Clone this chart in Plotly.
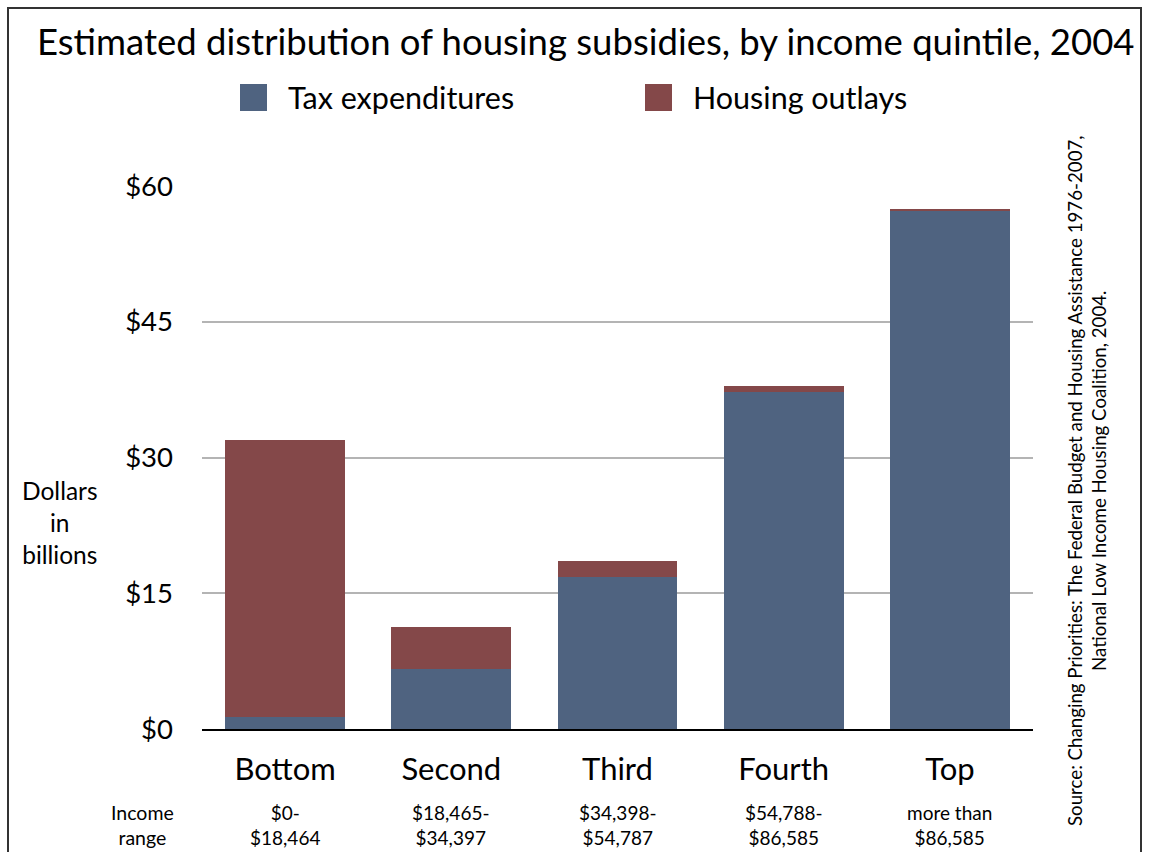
import plotly.graph_objects as go

# Income quintiles and their income ranges
quintiles = ["Bottom", "Second", "Third", "Fourth", "Top"]
income_ranges = ["$0-<br>$18,464", "$18,465-<br>$34,397", "$34,398-<br>$54,787",
                 "$54,788-<br>$86,585", "more than<br>$86,585"]

# Housing subsidies, billions of dollars
tax_expenditures = [1.3, 6.6, 16.8, 37.2, 57.2]
housing_outlays = [30.6, 4.7, 1.8, 0.7, 0.3]

y_ticks = [0, 15, 30, 45, 60]
y_tick_labels = ["$0", "$15", "$30", "$45", "$60"]

BLUE = "#4f6380"
RED = "#844849"
FONT = "Lato"

W, H = 1150, 852
L, R, T, B = 202, 117, 186, 123
PW, PH = W - L - R, H - T - B


def px(x):
    return (x - L) / PW


def py(y):
    return (H - B - y) / PH


fig = go.Figure()
fig.add_trace(go.Bar(x=quintiles, y=tax_expenditures, name="Tax expenditures",
                     marker=dict(color=BLUE, line=dict(width=0))))
fig.add_trace(go.Bar(x=quintiles, y=housing_outlays, name="Housing outlays",
                     marker=dict(color=RED, line=dict(width=0))))

fig.update_layout(
    width=W, height=H,
    margin=dict(l=L, r=R, t=T, b=B, pad=0),
    barmode="stack", bargap=0.28,
    showlegend=False,
    plot_bgcolor="white", paper_bgcolor="white",
    font=dict(family=FONT, color="black"),
    xaxis=dict(showgrid=False, showline=True, linecolor="black", linewidth=2,
               tickfont=dict(size=31), ticks="", ticklabelstandoff=12),
    yaxis=dict(range=[0, 60], tickvals=y_ticks, ticktext=y_tick_labels,
               showgrid=True, gridcolor="#b4b4b4", gridwidth=1.5,
               zeroline=False, showline=False,
               tickfont=dict(size=27.5), ticklabelstandoff=28),
)

# Title
fig.add_annotation(text="Estimated distribution of housing subsidies, by income quintile, 2004",
                   xref="paper", yref="paper", x=px(585), y=py(41),
                   showarrow=False, font=dict(size=36.5), xanchor="center", yanchor="middle")

# Legend keys
legend_items = [("Tax expenditures", BLUE, 240), ("Housing outlays", RED, 645)]
for label, color, x0 in legend_items:
    fig.add_shape(type="rect", xref="paper", yref="paper",
                  x0=px(x0), x1=px(x0 + 27), y0=py(111), y1=py(84),
                  fillcolor=color, line=dict(width=0))
    fig.add_annotation(text=label, xref="paper", yref="paper", x=px(x0 + 46), y=py(97),
                       showarrow=False, font=dict(size=30.5), xanchor="left", yanchor="middle")

# Y axis caption
fig.add_annotation(text="Dollars<br>in<br>billions", xref="paper", yref="paper",
                   x=px(60), y=py(522), showarrow=False, font=dict(size=24.5),
                   align="center", xanchor="center", yanchor="middle")

# Income ranges below categories
fig.add_annotation(text="Income<br>range", xref="paper", yref="paper",
                   x=px(142), y=py(825), showarrow=False, font=dict(size=19.5),
                   align="center", xanchor="center", yanchor="middle")
for q, rng in zip(quintiles, income_ranges):
    fig.add_annotation(text=rng, x=q, xref="x", yref="paper", y=py(825),
                       showarrow=False, font=dict(size=19), align="center",
                       xanchor="center", yanchor="middle")

# Source note, rotated
fig.add_annotation(text="Source: Changing Priorities: The Federal Budget and Housing Assistance 1976-2007,<br>"
                        "National Low Income Housing Coalition, 2004.",
                   xref="paper", yref="paper", x=px(1087), y=py(481), textangle=-90,
                   showarrow=False, font=dict(size=18.7), align="center",
                   xanchor="center", yanchor="middle")

# Frame
fig.add_shape(type="path", xref="paper", yref="paper",
              path=f"M {px(8)} {py(870)} L {px(8)} {py(8)} L {px(1141)} {py(8)} L {px(1141)} {py(870)}",
              line=dict(color="#333333", width=2))

fig.write_html("out.html")
